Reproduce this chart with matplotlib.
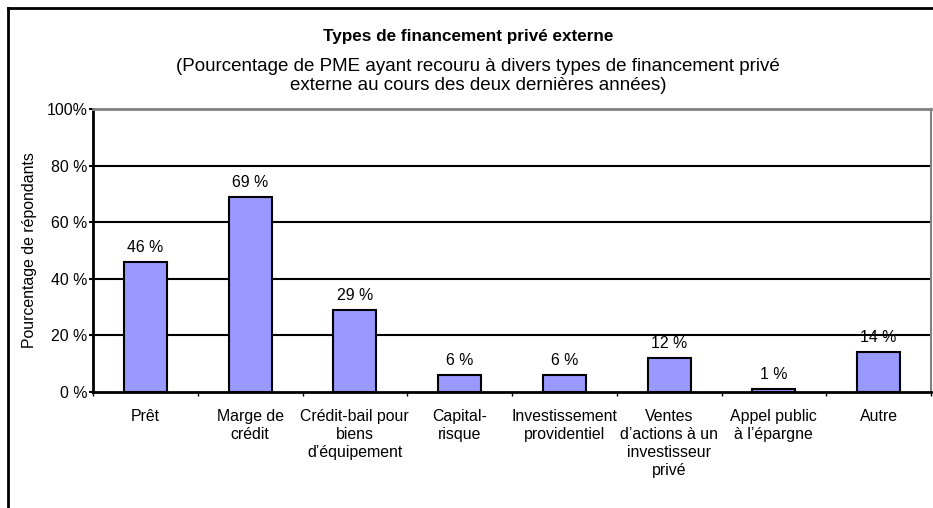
import numpy as np
import matplotlib
matplotlib.use("Agg")
import matplotlib.pyplot as plt
from matplotlib.lines import Line2D

plt.rcParams["font.family"] = ["Liberation Sans", "DejaVu Sans"]

categories = [
    "Prêt",
    "Marge de\ncrédit",
    "Crédit-bail pour\nbiens\nd\u2019équipement",
    "Capital-\nrisque",
    "Investissement\nprovidentiel",
    "Ventes\nd\u2019actions à un\ninvestisseur\nprivé",
    "Appel public\nà l\u2019épargne",
    "Autre",
]
values = [46, 69, 29, 6, 6, 12, 1, 14]
yticks = [0, 20, 40, 60, 80, 100]
ytick_labels = ["0 %", "20 %", "40 %", "60 %", "80 %", "100%"]

title = "Types de financement privé externe"
subtitle = ("(Pourcentage de PME ayant recouru à divers types de financement privé\n"
            "externe au cours des deux dernières années)")
ylabel = "Pourcentage de répondants"

W, H = 933, 508
fs = 11.4
fig = plt.figure(figsize=(W / 100, H / 100), dpi=100)

# outer chart frame (left and top edges visible)
fig.add_artist(Line2D([8 / W, 8 / W], [0, 1 - 8 / H], color="black", lw=2,
                      transform=fig.transFigure))
fig.add_artist(Line2D([8 / W, 1], [1 - 8 / H, 1 - 8 / H], color="black", lw=2,
                      transform=fig.transFigure))

left, right, top, bottom = 93, 931, 109, 392
ax = fig.add_axes([left / W, 1 - bottom / H, (right - left) / W, (bottom - top) / H])

x = np.arange(len(categories))
bars = ax.bar(x, values, width=0.41, color="#9999FF", edgecolor="black",
              linewidth=1.5, zorder=3)
for xi, v in zip(x, values):
    ax.annotate(f"{v} %", (xi, v), xytext=(0, 5), textcoords="offset points",
                ha="center", va="bottom", fontsize=fs, zorder=4)

ax.set_xlim(-0.5, len(categories) - 0.5)
ax.set_ylim(0, 100)

# horizontal gridlines
for yv in yticks[1:-1]:
    ax.axhline(yv, color="black", lw=1.5, zorder=1)

ax.set_yticks(yticks)
ax.set_yticklabels(ytick_labels, fontsize=fs)
ax.tick_params(axis="y", length=3, width=1.5, pad=1)

# category boundaries as major ticks, labels on minor ticks
ax.set_xticks(np.arange(len(categories) + 1) - 0.5)
ax.set_xticklabels([])
ax.tick_params(axis="x", which="major", length=3, width=1, color="black")
ax.set_xticks(x, minor=True)
ax.set_xticklabels(categories, minor=True, fontsize=fs, linespacing=1.27)
ax.tick_params(axis="x", which="minor", length=0, pad=12)

ax.spines["left"].set_linewidth(2)
ax.spines["bottom"].set_linewidth(2)
ax.spines["top"].set_color("#808080")
ax.spines["top"].set_linewidth(2)
ax.spines["right"].set_color("#808080")
ax.spines["right"].set_linewidth(1.5)

ax.set_ylabel(ylabel, fontsize=fs)
ax.yaxis.set_label_coords(-0.067, 0.5)

fig.text(468 / W, 1 - 37 / H, title, ha="center", va="center",
         fontsize=12.3, fontweight="bold")
fig.text(478 / W, 1 - 76 / H, subtitle, ha="center", va="center",
         fontsize=13.5, linespacing=1.2)

fig.savefig("out.png", dpi=100)
